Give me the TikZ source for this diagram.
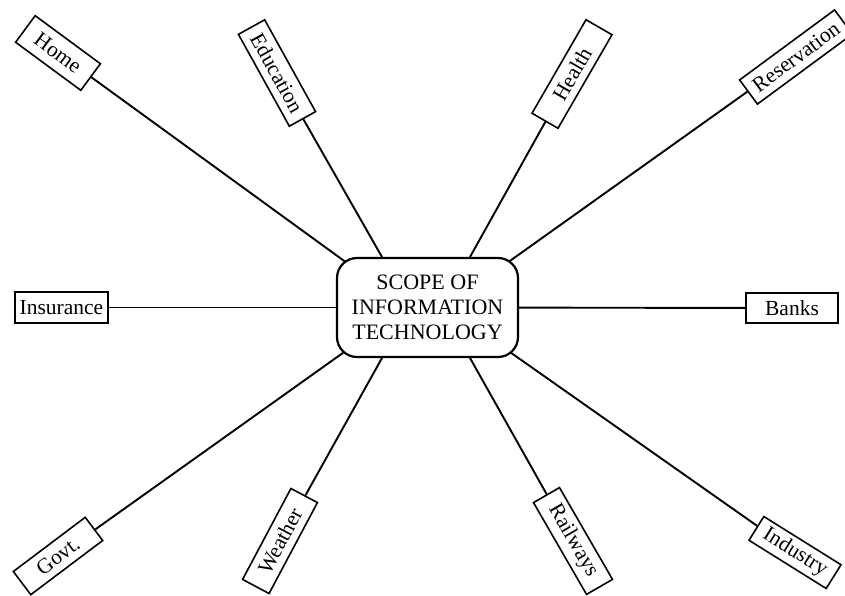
\documentclass[tikz,border=0pt]{standalone}
\usepackage{fontspec}
\setmainfont{Liberation Serif}
\usetikzlibrary{backgrounds}
\begin{document}
\begin{tikzpicture}[x=1pt,y=-1pt,
  leaf/.style={draw, fill=white, line width=1.6pt, inner sep=0pt, minimum height=30pt,
    font=\fontsize{21.5}{25}\selectfont},
  hub/.style={draw, fill=white, line width=2.2pt, rounded corners=20pt, inner sep=0pt,
    minimum width=181pt, minimum height=99pt, align=center,
    font=\fontsize{22}{25}\selectfont},
  link/.style={line width=1.9pt}]
\useasboundingbox (0,0) rectangle (845,596);
\node[hub] (scope) at (427.5,307.5) {SCOPE OF\\INFORMATION\\TECHNOLOGY};

\node[leaf, minimum width=81pt, minimum height=33pt, rotate=-36.4] (home) at (58,53) {Home};
\node[leaf, minimum width=105pt, rotate=-61] (edu) at (277,73) {Education};
\node[leaf, minimum width=108pt, rotate=60] (health) at (572,74) {Health};
\node[leaf, minimum width=118pt, rotate=36.4] (res) at (796,57) {Reservation};
\node[leaf, minimum width=93pt, minimum height=31pt] (ins) at (61.5,307.5) {Insurance};
\node[leaf, minimum width=92pt] (banks) at (792,308) {Banks};
\node[leaf, minimum width=90pt, minimum height=29pt, rotate=37] (govt) at (58,556) {Govt.};
\node[leaf, minimum width=103pt, rotate=62] (weather) at (280,541) {Weather};
\node[leaf, minimum width=106pt, rotate=-60] (rail) at (573,541) {Railways};
\node[leaf, minimum width=91pt, minimum height=28pt, rotate=-32] (ind) at (795,552.5) {Industry};

\coordinate (eHome) at (347,263);
\coordinate (eEdu) at (382,257);
\coordinate (eHealth) at (470,257);
\coordinate (eRes) at (507,263);
\coordinate (eGovt) at (347,350);
\coordinate (eWeather) at (382,358);
\coordinate (eRail) at (470,358);
\coordinate (eInd) at (507,350);

\begin{scope}[on background layer]
\draw[link] (home) -- (eHome);
\draw[link] (edu) -- (eEdu);
\draw[link] (health) -- (eHealth);
\draw[link] (res) -- (eRes);
\draw[link] (ins) -- (scope);
\draw[link] (banks) -- (scope);
\draw[link] (govt) -- (eGovt);
\draw[link] (weather) -- (eWeather);
\draw[link] (rail) -- (eRail);
\draw[link] (ind) -- (eInd);
\end{scope}
\end{tikzpicture}
\end{document}
